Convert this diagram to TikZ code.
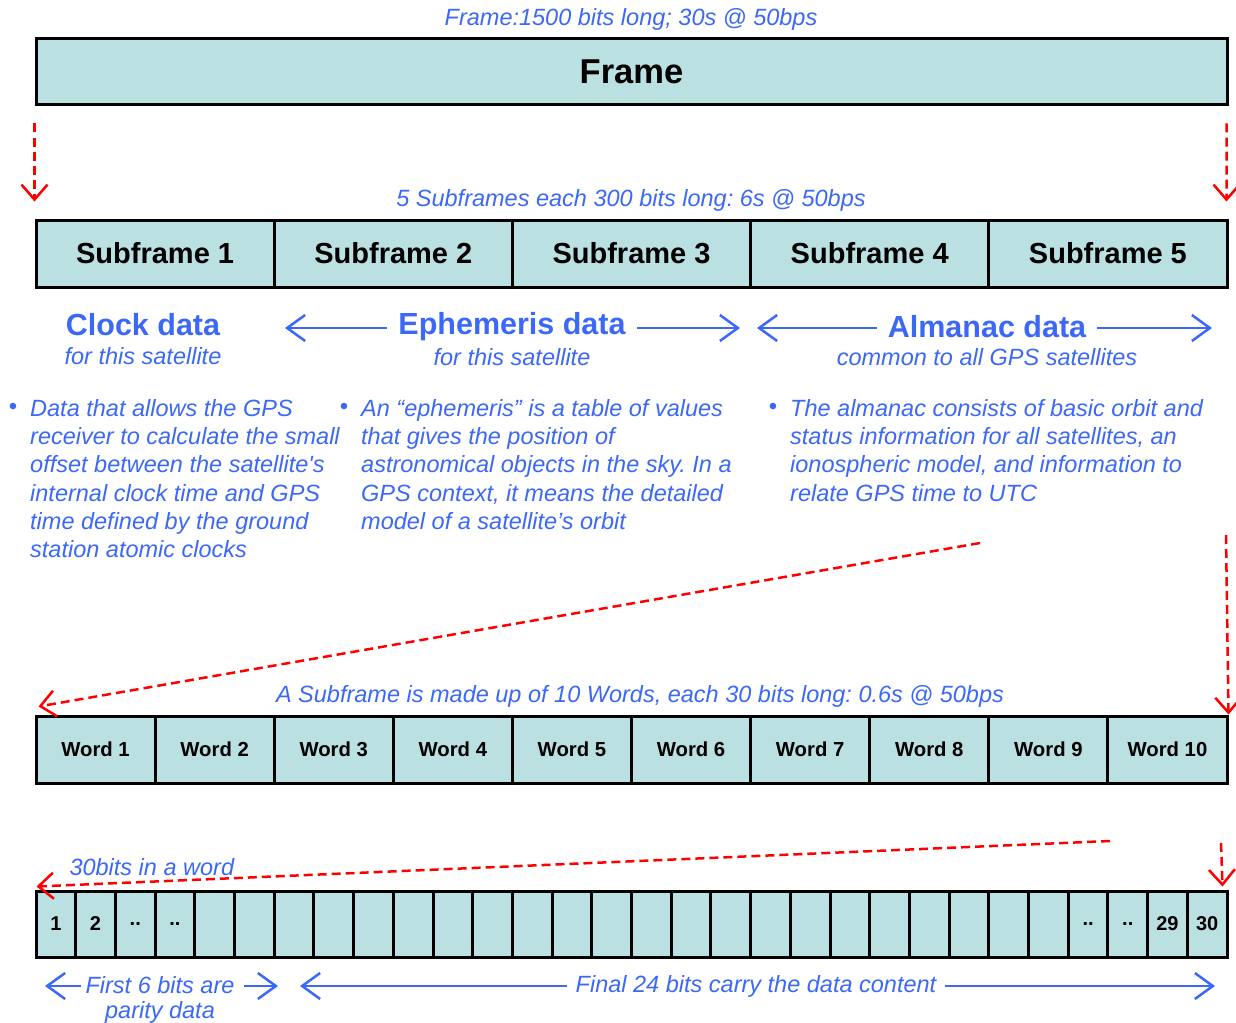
\documentclass[tikz,border=0pt]{standalone}
\usepackage{fontspec}
\setmainfont{Liberation Sans}
\usetikzlibrary{arrows.meta, positioning}
\definecolor{gpsblue}{RGB}{59,104,246}
\definecolor{cellfill}{RGB}{186,224,226}
\definecolor{gpsred}{RGB}{255,0,0}
\frenchspacing
\tikzset{
  cell/.style={draw, line width=3pt, fill=cellfill, inner sep=0pt},
  bluetxt/.style={text=gpsblue, font=\itshape\fontsize{23.5}{28.3}\selectfont},
  grp/.style={text=gpsblue, font=\bfseries\fontsize{30.5}{36}\selectfont, inner xsep=11pt},
  bodytxt/.style={bluetxt, anchor=north west, align=left, inner sep=0pt},
  bulletdot/.style={text=gpsblue, font=\fontsize{24}{28}\selectfont, inner sep=0pt},
  zoomline/.style={draw=gpsred, line width=2.5pt, dash pattern=on 9pt off 5pt, -{Straight Barb[length=15pt,width=26pt]}},
  spanline/.style={draw=gpsblue, line width=2.5pt, -{Straight Barb[length=18pt,width=26pt]}},
}
\begin{document}
\begin{tikzpicture}[x=1pt, y=-1pt]
    \useasboundingbox (0,0) rectangle (1236,1022);
    % frame
    \node[bluetxt] (framecap) at (631,19) {Frame:1500 bits long; 30s @ 50bps};
    \node[cell, minimum width=1191pt, minimum height=66pt, font=\bfseries\fontsize{34.5}{40}\selectfont] (frame) at (631.5,72) {Frame};

    % subframes
    \node[bluetxt] (sfcap) at (631,200) {5 Subframes each 300 bits long: 6s @ 50bps};
    \foreach \i in {1,...,5}
        \node[cell, minimum width=238.2pt, minimum height=67pt, font=\bfseries\fontsize{29}{34}\selectfont] (sf\i) at ({36+238.2*(\i-0.5)},253.5) {Subframe \i};
    \draw[zoomline] ([yshift=-17pt]frame.south west) -- ([yshift=17pt]sf1.north west);
    \draw[zoomline] ([shift={(-2pt,-17pt)}]frame.south east) -- ([shift={(-2pt,17pt)}]sf5.north east);

    % what the subframes carry
    \node[grp] (clock) at (143,325) {Clock data};
    \node[bluetxt] (clocksub) at (143,356) {for this satellite};
    \node[grp] (ephem) at (512,327) {Ephemeris data};
    \node[bluetxt] (ephemsub) at (512,357) {for this satellite};
    \node[grp] (alma) at (987,327) {Almanac data};
    \node[bluetxt] (almasub) at (987,357) {common to all GPS satellites};
    \coordinate (ephl) at (285,328);
    \coordinate (ephr) at (740,328);
    \coordinate (almal) at (757,328);
    \coordinate (almar) at (1212,328);
    \draw[spanline] (ephem.west |- ephl) -- (ephl);
    \draw[spanline] (ephem.east |- ephr) -- (ephr);
    \draw[spanline] (alma.west |- almal) -- (almal);
    \draw[spanline] (alma.east |- almar) -- (almar);

    \node[bulletdot] (bclock) at (13,409) {•};
    \node[bodytxt] (tclock) at (30,399) {Data that allows the GPS\\receiver to calculate the small\\offset between the satellite\textquotesingle s\\internal clock time and GPS\\time defined by the ground\\station atomic clocks};
    \node[bulletdot] (bephem) at (344,409) {•};
    \node[bodytxt] (tephem) at (361,399) {An “ephemeris” is a table of values\\that gives the position of\\astronomical objects in the sky. In a\\GPS context, it means the detailed\\model of a satellite’s orbit};
    \node[bulletdot] (balma) at (773,409) {•};
    \node[bodytxt] (talma) at (790,399) {The almanac consists of basic orbit and\\status information for all satellites, an\\ionospheric model, and information to\\relate GPS time to UTC};

    % words
    \node[bluetxt] (wcap) at (640,696) {A Subframe is made up of 10 Words, each 30 bits long: 0.6s @ 50bps};
    \foreach \i in {1,...,10}
        \node[cell, minimum width=119.1pt, minimum height=67pt, font=\bfseries\fontsize{20.3}{24}\selectfont] (w\i) at ({36+119.1*(\i-0.5)},749.5) {Word \i};
    \coordinate (dl) at (980,543);
    \coordinate (dr) at (1226,535);
    \draw[zoomline] (dl) -- ([shift={(4pt,8pt)}]w1.north west);
    \draw[zoomline] (dr) -- (w10.north east);

    % bits
    \node[bluetxt, anchor=west] (bitcap) at (66,867) {30bits in a word};
    \foreach \i in {1,...,30}
        \node[cell, minimum width=39.7pt, minimum height=66pt, font=\bfseries\fontsize{20}{24}\selectfont] (b\i) at ({36+39.7*(\i-0.5)},924)
            {\ifnum\i<3 \i\else\ifnum\i<5 ..\else\ifnum\i<27 \else\ifnum\i<29 ..\else\i\fi\fi\fi\fi};
    \coordinate (bl) at (1110,841);
    \coordinate (br) at (1221,843);
    \draw[zoomline] (bl) -- ([shift={(2pt,3pt)}]b1.north west);
    \draw[zoomline] (br) -- ([shift={(-6pt,3pt)}]b30.north east);

    % parity and data spans
    \node[bluetxt] (first6) at (160,985) {First 6 bits are};
    \node[bluetxt] (parity) at (160,1012) {parity data};
    \node[bluetxt, inner xsep=9pt] (final) at (756,986) {Final 24 bits carry the data content};
    \coordinate (f6l) at (45,986);
    \coordinate (f6r) at (278,986);
    \coordinate (fdl) at (300,986);
    \coordinate (fdr) at (1215,986);
    \draw[spanline] ([xshift=-1pt]first6.west |- f6l) -- (f6l);
    \draw[spanline] ([xshift=6pt]first6.east |- f6r) -- (f6r);
    \draw[spanline] (final.west |- fdl) -- (fdl);
    \draw[spanline] (final.east |- fdr) -- (fdr);
\end{tikzpicture}
\end{document}
